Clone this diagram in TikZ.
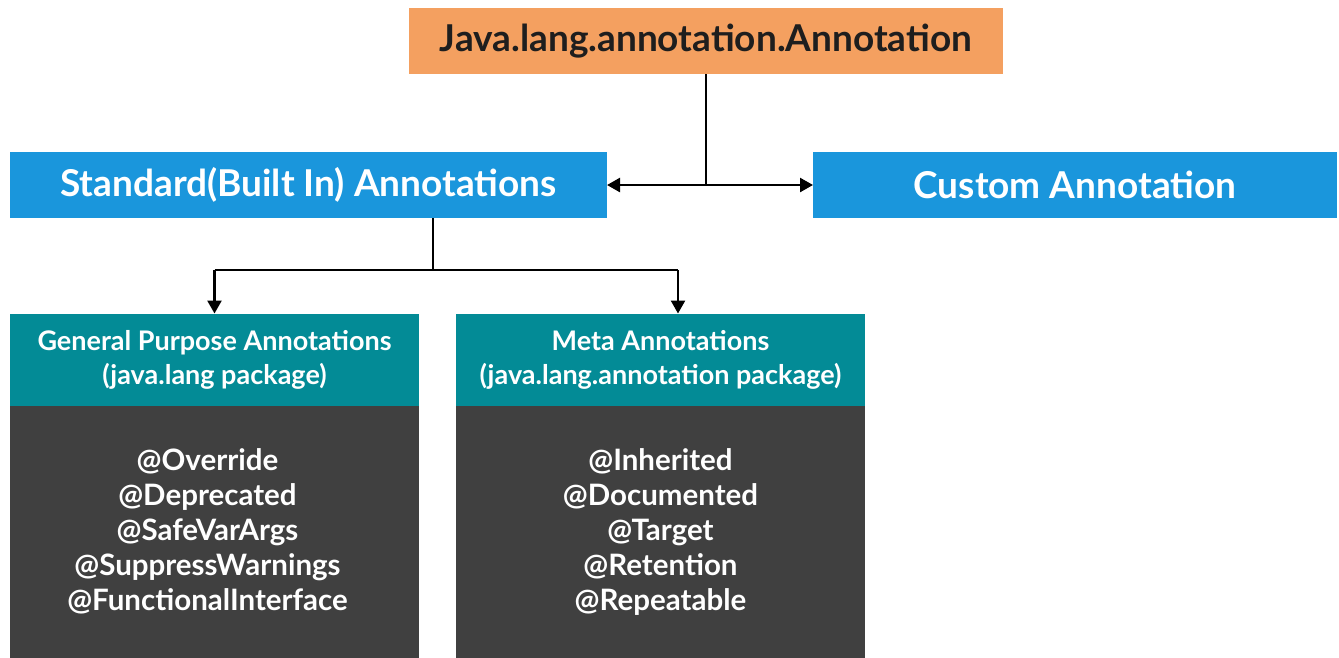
\documentclass[tikz,border=0pt]{standalone}
\usepackage{fontspec}
\setmainfont{Lato}
\usetikzlibrary{arrows.meta}
\definecolor{rootfill}{RGB}{244,160,96}
\definecolor{kindfill}{RGB}{26,150,220}
\definecolor{headfill}{RGB}{3,139,150}
\definecolor{bodyfill}{RGB}{64,64,64}
\definecolor{textdark}{RGB}{30,30,30}
\tikzset{
  box/.style={inner sep=0pt, outer sep=0pt, align=center, font=\bfseries},
  rootbox/.style={box, fill=rootfill, text=textdark, minimum width=594pt, minimum height=66pt, font=\fontsize{37}{40}\selectfont\bfseries},
  kindbox/.style={box, fill=kindfill, text=white, minimum height=66pt, font=\fontsize{37}{40}\selectfont\bfseries},
  headbox/.style={box, fill=headfill, text=white, minimum width=409pt, minimum height=92pt, font=\fontsize{27}{34}\selectfont\bfseries},
  bodybox/.style={box, fill=bodyfill, minimum width=409pt, minimum height=252pt},
  bodytext/.style={box, text=white, font=\fontsize{29.5}{35}\selectfont\bfseries},
  link/.style={line width=2.5pt, black},
  arrowlink/.style={link, -{Triangle[length=13pt,width=14pt]}}
}
\begin{document}
\begin{tikzpicture}[x=1pt,y=-1pt]
\useasboundingbox (0,0) rectangle (1339,657);

% top-level type
\node[rootbox] (root) at (706,41) {Java.lang.annotation.Annotation};

% two kinds of annotations
\node[kindbox, minimum width=597pt] (std) at (308.5,185) {Standard(Built In) Annotations};
\node[kindbox, minimum width=524pt] (cust) at (1075,185) {Custom Annotation};

% built-in groups: coloured header over a dark list panel
\node[headbox] (genhead) at (214.5,359.5) {General Purpose Annotations\\(java.lang package)};
\node[bodybox, anchor=north] (genbody) at (genhead.south) {};
\node[bodytext] (genlist) at ([xshift=-7pt]genbody.center) {@Override\\@Deprecated\\@SafeVarArgs\\@SuppressWarnings\\@FunctionalInterface};
\node[headbox] (metahead) at (660.5,359.5) {Meta Annotations\\(java.lang.annotation package)};
\node[bodybox, anchor=north] (metabody) at (metahead.south) {};
\node[bodytext] (metalist) at (metabody.center) {@Inherited\\@Documented\\@Target\\@Retention\\@Repeatable};

% root splits into the two kinds
\coordinate (rj) at (root.south |- std.east);
\draw[link] (root.south) -- (rj);
\draw[arrowlink] (rj) -- (std.east);
\draw[arrowlink] (rj) -- (cust.west);

% standard annotations split into the two groups
\coordinate (sj) at (433,270);
\coordinate (sl) at (genhead.north |- sj);
\coordinate (sr) at (678,270);
\draw[link] (std.south -| sj) -- (sj);
\draw[link] (sl) -- (sr);
\draw[arrowlink] (sl) -- (genhead.north);
\draw[arrowlink] (sr) -- (sr |- metahead.north);
\end{tikzpicture}
\end{document}
